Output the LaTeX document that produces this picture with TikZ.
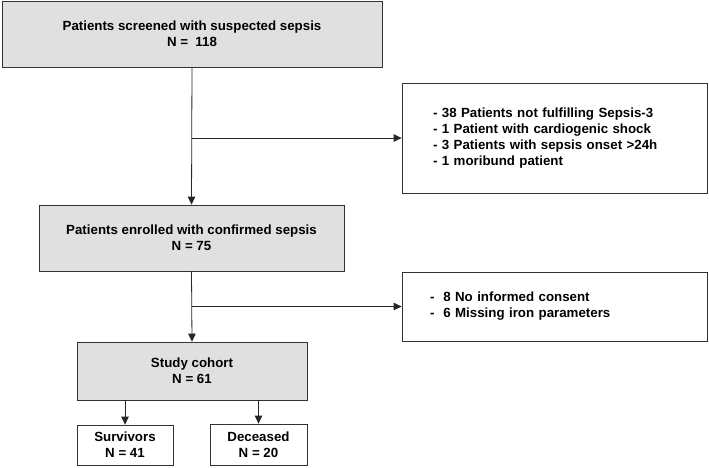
\documentclass[tikz,border=0pt]{standalone}
\usepackage{fontspec}
\setmainfont{Liberation Sans}
\usepackage{tikz}
\usetikzlibrary{arrows.meta, positioning}
\tikzstyle{stage}=[rectangle, draw=black!80, fill=black!12, line width=0.8pt, align=center, inner sep=0pt]
\tikzstyle{outcome}=[rectangle, draw=black!80, fill=white, line width=0.8pt, align=center, inner sep=0pt]
\tikzstyle{excluded}=[rectangle, draw=black!80, fill=white, line width=0.8pt, align=left, inner ysep=0pt]
\tikzstyle{flow}=[->, line width=0.8pt, black!85]

\begin{document}
\begin{tikzpicture}[x=1pt, y=-1pt, >={Triangle[length=8pt, width=7.5pt]}, font=\fontsize{13.3}{16}\selectfont\bfseries]
          \useasboundingbox (0,0) rectangle (709,467);
          \node[stage] (screen) at (192,34) [minimum width=380pt, minimum height=66pt] {Patients screened with suspected sepsis\\N =~ 118};
          \node[stage] (enrol) at (191.5,238) [minimum width=305pt, minimum height=66pt] {Patients enrolled with confirmed sepsis\\N = 75};
          \node[stage] (cohort) at (192,371) [minimum width=230pt, minimum height=58pt] {Study cohort\\N = 61};
          \node[outcome] (surv) at (125,445) [minimum width=96pt, minimum height=40pt] {Survivors\\N = 41};
          \node[outcome] (dec) at (258.5,444.5) [minimum width=97pt, minimum height=41pt] {Deceased\\N = 20};

          \node[excluded] (excl1) at (554.5,138) [inner xsep=31pt, text width=243pt, minimum height=110pt]
                {- 38 Patients not fulfilling Sepsis-3\\- 1 Patient with cardiogenic shock\\- 3 Patients with sepsis onset >24h\\- 1 moribund patient};
          \node[excluded] (excl2) at (554.5,306.5) [inner xsep=28pt, text width=249pt, minimum height=69pt]
                {-~ 8 No informed consent\\-~ 6 Missing iron parameters};

          % main flow
          \draw[flow] (screen.south) -- (enrol.north);
          \draw[flow] (enrol.south) -- (cohort.north);
          \draw[flow] (surv.north |- cohort.south) -- (surv.north);
          \draw[flow] (dec.north |- cohort.south) -- (dec.north);

          % exclusions
          \coordinate (b1) at (screen.south |- excl1.west);
          \coordinate (b2) at (enrol.south |- excl2.west);
          \draw[flow] (b1) -- (excl1.west);
          \draw[flow] (b2) -- (excl2.west);
        \end{tikzpicture}
\end{document}
